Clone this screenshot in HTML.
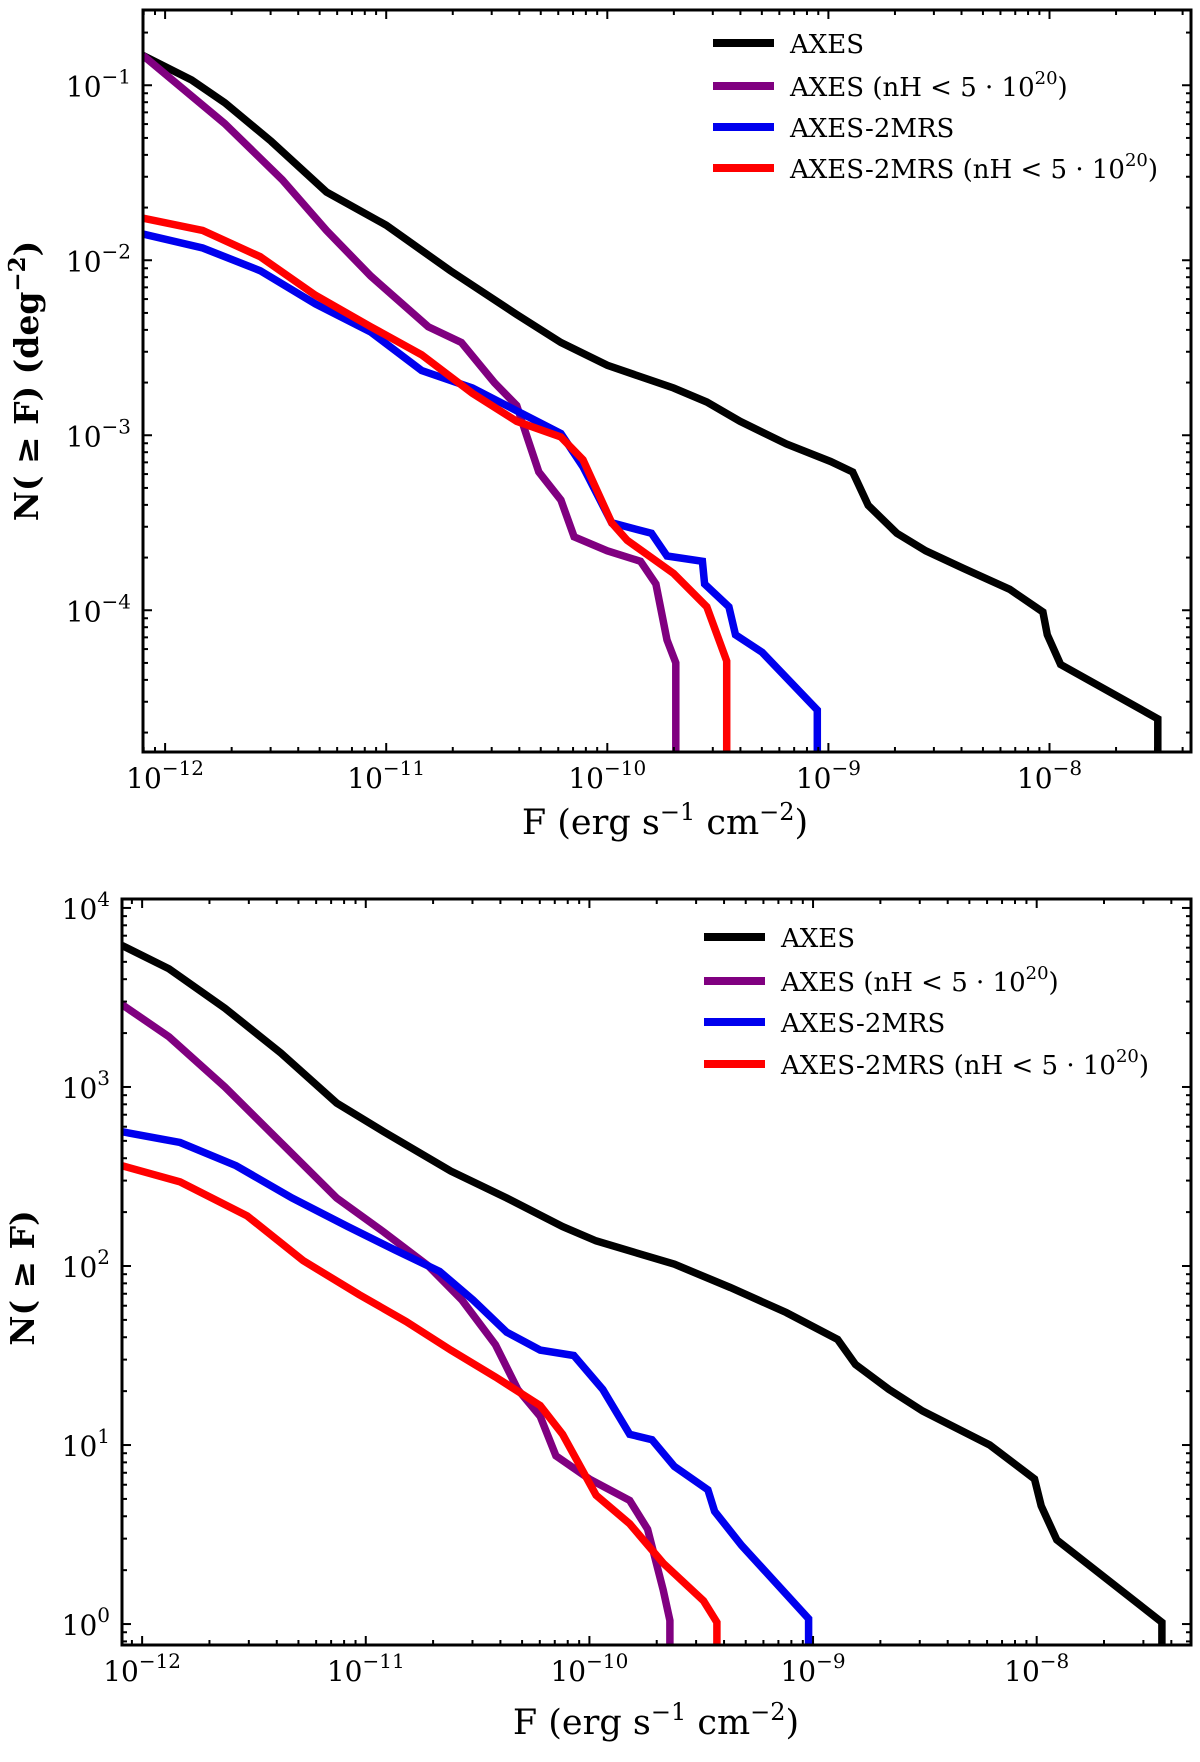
<!DOCTYPE html>
<html><head><meta charset="utf-8"><style>
html,body{margin:0;padding:0;background:#fff;overflow:hidden;width:1200px;height:1762px;}
svg{display:block;}
text{font-family:"DejaVu Serif","Liberation Serif",serif;fill:#000;}
</style></head><body>
<svg id="fig" width="1200" height="1762" viewBox="0 0 1200 1762" xmlns="http://www.w3.org/2000/svg"></svg>
<script>
// ---- data (log10 values) ----
const topAxesF=[-12.1,-11.88,-11.73,-11.52,-11.27,-11,-10.71,-10.41,-10.21,-10,-9.7,-9.55,-9.4,-9.19,-8.99,-8.89,-8.82,-8.69,-8.56,-8.39,-8.18,-8.03,-8.01,-7.95,-7.51,-7.51];
const topAxesN=[-0.83,-0.97,-1.10,-1.32,-1.61,-1.80,-2.06,-2.31,-2.47,-2.60,-2.73,-2.81,-2.92,-3.05,-3.15,-3.21,-3.40,-3.56,-3.66,-3.76,-3.88,-4.01,-4.14,-4.31,-4.62,-9];
const topAxesNhF=[-12.1,-11.73,-11.47,-11.27,-11.07,-10.81,-10.66,-10.51,-10.41,-10.36,-10.31,-10.21,-10.15,-10,-9.85,-9.78,-9.73,-9.69,-9.69];
const topAxesNhN=[-0.83,-1.22,-1.54,-1.83,-2.09,-2.38,-2.47,-2.70,-2.83,-3.02,-3.21,-3.37,-3.58,-3.66,-3.72,-3.85,-4.17,-4.30,-9];
const top2mrsF=[-12.1,-11.83,-11.57,-11.32,-11.07,-10.84,-10.61,-10.41,-10.21,-10.11,-9.98,-9.8,-9.73,-9.57,-9.56,-9.45,-9.42,-9.3,-9.05,-9.05];
const top2mrsN=[-1.85,-1.93,-2.06,-2.25,-2.41,-2.63,-2.73,-2.86,-2.99,-3.18,-3.50,-3.56,-3.69,-3.72,-3.85,-3.98,-4.14,-4.24,-4.57,-9];
const top2mrsNhF=[-12.1,-11.83,-11.57,-11.32,-11.07,-10.84,-10.61,-10.41,-10.21,-10.11,-9.98,-9.91,-9.7,-9.55,-9.46,-9.46];
const top2mrsNhN=[-1.76,-1.83,-1.98,-2.20,-2.38,-2.54,-2.76,-2.92,-3.01,-3.14,-3.50,-3.60,-3.79,-3.98,-4.29,-9];

const botAxesF=[-12.09,-11.88,-11.63,-11.38,-11.13,-10.92,-10.62,-10.37,-10.12,-9.97,-9.62,-9.37,-9.12,-8.89,-8.81,-8.66,-8.51,-8.21,-8.01,-7.98,-7.91,-7.44,-7.44];
const botAxesN=[3.79,3.66,3.44,3.19,2.91,2.75,2.53,2.38,2.22,2.14,2.01,1.88,1.74,1.59,1.45,1.31,1.19,1.00,0.81,0.66,0.47,0.01,-5];
const botAxesNhF=[-12.09,-11.88,-11.63,-11.38,-11.13,-10.92,-10.72,-10.57,-10.42,-10.32,-10.22,-10.15,-10.0,-9.82,-9.74,-9.67,-9.64,-9.64];
const botAxesNhN=[3.46,3.28,3.00,2.69,2.38,2.19,2.00,1.81,1.56,1.31,1.16,0.94,0.81,0.69,0.53,0.19,0.02,-5];
const bot2mrsF=[-12.09,-11.83,-11.58,-11.33,-11.08,-10.87,-10.67,-10.52,-10.37,-10.22,-10.07,-9.94,-9.82,-9.72,-9.62,-9.47,-9.44,-9.32,-9.02,-9.02];
const bot2mrsN=[2.75,2.69,2.56,2.38,2.22,2.09,1.97,1.81,1.63,1.53,1.50,1.31,1.06,1.03,0.88,0.75,0.63,0.44,0.03,-5];
const bot2mrsNhF=[-12.09,-11.83,-11.53,-11.28,-11.03,-10.82,-10.62,-10.42,-10.22,-10.12,-9.97,-9.82,-9.67,-9.49,-9.43,-9.43];
const bot2mrsNhN=[2.56,2.47,2.28,2.03,1.84,1.69,1.53,1.38,1.22,1.06,0.72,0.56,0.34,0.13,0.01,-5];

const xTickExps=[-12,-11,-10,-9,-8];
const topYTickExps=[-1,-2,-3,-4];
const botYTickExps=[4,3,2,1,0];
const legendLabels=["AXES","AXES (nH","AXES-2MRS","AXES-2MRS (nH"];
const seriesColors=["#000000","#800080","#0000ee","#ff0000"];

const NS="http://www.w3.org/2000/svg";
const svg=document.getElementById('fig');
function mk(tag,attrs,parent){const e=document.createElementNS(NS,tag);for(const k in attrs)e.setAttribute(k,attrs[k]);(parent||svg).appendChild(e);return e;}

function panel(p){
  const g=mk('g',{});
  
  
  const sx=v=>p.L+(v-p.x0)/(p.x1-p.x0)*(p.R-p.L);
  const sy=v=>p.B-(v-p.y0)/(p.y1-p.y0)*(p.B-p.T);
  const cid='clip-'+p.name;
  const cp=mk('clipPath',{id:cid},g);mk('rect',{x:p.L,y:p.T,width:p.R-p.L,height:p.B-p.T},cp);
  const lg=mk('g',{'clip-path':'url(#'+cid+')'},g);
  p.series.forEach((s,i)=>{
    let d='';
    for(let k=0;k<s.f.length;k++){d+=(k?'L':'M')+sx(s.f[k]).toFixed(1)+','+sy(s.n[k]).toFixed(1);}
    const path=mk('path',{d:d,fill:'none',stroke:seriesColors[i],'stroke-width':7.5,'stroke-linejoin':'miter'},lg);
    
    
  });
  const tg=mk('g',{stroke:'#000','stroke-width':2},g);
  for(let e=Math.floor(p.x0);e<=Math.ceil(p.x1);e++){
    for(let m=1;m<10;m++){const v=e+Math.log10(m);if(v<p.x0||v>p.x1)continue;const x=sx(v);const len=m===1?9:5;
      mk('line',{x1:x,y1:p.B,x2:x,y2:p.B-len},tg);mk('line',{x1:x,y1:p.T,x2:x,y2:p.T+len},tg);}
  }
  for(let e=Math.floor(p.y0);e<=Math.ceil(p.y1);e++){
    for(let m=1;m<10;m++){const v=e+Math.log10(m);if(v<p.y0||v>p.y1)continue;const y=sy(v);const len=m===1?9:5;
      mk('line',{x1:p.L,y1:y,x2:p.L+len,y2:y},tg);mk('line',{x1:p.R,y1:y,x2:p.R-len,y2:y},tg);}
  }
  const fr=mk('rect',{x:p.L,y:p.T,width:p.R-p.L,height:p.B-p.T,fill:'none',stroke:'#000','stroke-width':3},g);
  
  
  xTickExps.forEach(e=>{
    const t=mk('text',{x:sx(e),y:p.B+36,'text-anchor':'middle','font-size':28},g);
    
    
    t.textContent='10';const s=mk('tspan',{dy:-13,'font-size':20},t);s.textContent='−'+(-e);
  });
  p.yt.forEach(e=>{
    const t=mk('text',{x:p.L-12,y:sy(e)+11,'text-anchor':'end','font-size':28},g);
    
    
    t.textContent='10';const s=mk('tspan',{dy:-13,'font-size':20},t);s.textContent=(e<0?'−'+(-e):''+e);
  });
  const xl=mk('text',{x:p.xlx,y:p.xly,'text-anchor':'middle','font-size':35},g);
  
  
  xl.innerHTML='F (erg s<tspan dy="-14" font-size="24">−1</tspan><tspan dy="14"> cm</tspan><tspan dy="-14" font-size="24">−2</tspan><tspan dy="14">)</tspan>';
  const yl=mk('text',{x:0,y:0,'text-anchor':'middle','font-size':33,'font-weight':'bold',transform:'translate('+p.ylx+','+p.yly+') rotate(-90)'},g);
  
  
  yl.innerHTML=p.ylab;
  legendLabels.forEach((lab,i)=>{
    const y=p.legY[i];
    const ln=mk('line',{x1:p.legX,y1:y,x2:p.legX+61,y2:y,stroke:seriesColors[i],'stroke-width':8},g);
    
    
    const t=mk('text',{x:p.legX+77,y:y+10,'font-size':26},g);
    
    
    if(i%2===1){t.innerHTML=lab+' &lt; 5 · 10<tspan dy="-12" font-size="18">20</tspan><tspan dy="12">)</tspan>';}
    else t.textContent=lab;
  });
}
panel({name:'top-panel',L:143,R:1191,T:10,B:752,x0:-12.1,x1:-7.36,y0:-4.81,y1:-0.57,yt:topYTickExps,
  xlx:665,xly:834,ylx:38,yly:381,ylab:'N( ≥ F) (deg<tspan dy="-13" font-size="23">−2</tspan><tspan dy="13">)</tspan>',
  legX:713,legY:[43,86,127,168],
  series:[{id:'axes-line',f:topAxesF,n:topAxesN},{id:'axes-nh-line',f:topAxesNhF,n:topAxesNhN},{id:'axes-2mrs-line',f:top2mrsF,n:top2mrsN},{id:'axes-2mrs-nh-line',f:top2mrsNhF,n:top2mrsNhN}]});
panel({name:'bottom-panel',L:122,R:1191,T:899,B:1645,x0:-12.09,x1:-7.31,y0:-0.117,y1:4.05,yt:botYTickExps,
  xlx:656,xly:1734,ylx:34,yly:1278,ylab:'N( ≥ F)',
  legX:704,legY:[937,981,1022,1064],
  series:[{id:'axes-line',f:botAxesF,n:botAxesN},{id:'axes-nh-line',f:botAxesNhF,n:botAxesNhN},{id:'axes-2mrs-line',f:bot2mrsF,n:bot2mrsN},{id:'axes-2mrs-nh-line',f:bot2mrsNhF,n:bot2mrsNhN}]});
</script>
</body></html>
